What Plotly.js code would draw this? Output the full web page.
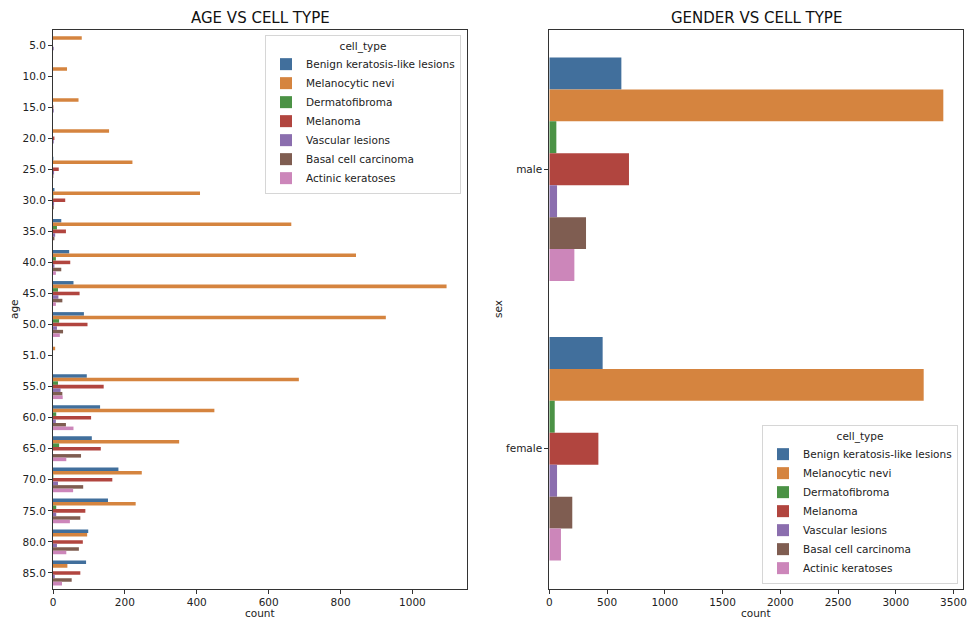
<!DOCTYPE html>
<html>
<head>
<meta charset="utf-8">
<script src="https://cdn.plot.ly/plotly-3.0.1.min.js"></script>
<style>html,body{margin:0;padding:0;background:#fff;}#chart{width:968px;height:619px;}</style>
</head>
<body>
<div id="chart"></div>
<script>
// ---- data ----
const cellTypes = ['Benign keratosis-like lesions','Melanocytic nevi','Dermatofibroma','Melanoma','Vascular lesions','Basal cell carcinoma','Actinic keratoses'];
const ages = ['5.0','10.0','15.0','20.0','25.0','30.0','35.0','40.0','45.0','50.0','51.0','55.0','60.0','65.0','70.0','75.0','80.0','85.0'];
const ageBenign   = [0, 0, 0, 0, 1, 4, 23, 45, 57, 86, 0, 94, 131, 108, 182, 153, 98, 92];
const ageNevi     = [80, 39, 71, 156, 221, 409, 663, 843, 1095, 926, 6, 684, 449, 351, 247, 230, 95, 40];
const ageDerma    = [0, 0, 0, 0, 0, 1, 11, 8, 14, 17, 0, 14, 9, 17, 1, 9, 0, 0];
const ageMelanoma = [0, 0, 1, 4, 16, 34, 36, 48, 74, 96, 0, 141, 106, 133, 165, 90, 83, 76];
const ageVascular = [2, 0, 2, 2, 3, 3, 6, 4, 15, 11, 0, 21, 8, 0, 14, 9, 11, 5];
const ageBCC      = [0, 0, 0, 0, 1, 2, 4, 23, 26, 28, 0, 26, 36, 78, 84, 76, 72, 52];
const ageActinic  = [0, 0, 0, 0, 0, 0, 0, 8, 8, 19, 0, 27, 57, 37, 56, 47, 37, 25];

const sexes = ['male','female'];
const sexBenign   = [624, 462];
const sexNevi     = [3412, 3242];
const sexDerma    = [61, 47];
const sexMelanoma = [690, 425];
const sexVascular = [67, 67];
const sexBCC      = [318, 199];
const sexActinic  = [217, 101];

const palette = ['#416f9c','#d5843f','#4b9245','#b1453f','#8b6eae','#7f5d51','#cc86ba'];

const ageSeries = [ageBenign, ageNevi, ageDerma, ageMelanoma, ageVascular, ageBCC, ageActinic];
const sexSeries = [sexBenign, sexNevi, sexDerma, sexMelanoma, sexVascular, sexBCC, sexActinic];

const FONT = 'DejaVu Sans, Arial, sans-serif';
const W = 968, H = 619;
const px = v => v / W;
const py = v => 1 - v / H;

const traces = [];
cellTypes.forEach((name, i) => {
  traces.push({
    type: 'bar', orientation: 'h', name: name,
    x: ageSeries[i], y: ages, xaxis: 'x', yaxis: 'y',
    marker: {color: palette[i], line: {width: 0}},
    legend: 'legend', legendgroup: 'a' + i, hoverinfo: 'x+y+name'
  });
});
cellTypes.forEach((name, i) => {
  traces.push({
    type: 'bar', orientation: 'h', name: name,
    x: sexSeries[i], y: sexes, xaxis: 'x2', yaxis: 'y2',
    marker: {color: palette[i], line: {width: 0}},
    legend: 'legend2', legendgroup: 's' + i, hoverinfo: 'x+y+name'
  });
});

const axisCommon = {
  showline: true, mirror: true, linecolor: '#333', linewidth: 1,
  ticks: 'outside', ticklen: 4, tickwidth: 1, tickcolor: '#333',
  showgrid: false, zeroline: false, automargin: false,
  tickfont: {family: FONT, size: 10.5, color: '#222'}
};

const legendCommon = {
  bgcolor: 'rgba(255,255,255,0.85)', bordercolor: '#d6d6d6', borderwidth: 1,
  font: {family: FONT, size: 10.5, color: '#222'},
  title: {text: 'cell_type', side: 'top center', font: {family: FONT, size: 10.5, color: '#222'}},
  traceorder: 'normal', xref: 'paper', yref: 'paper'
};

const layout = {
  width: W, height: H,
  margin: {l: 0, r: 0, t: 0, b: 0},
  paper_bgcolor: '#fff', plot_bgcolor: '#fff',
  font: {family: FONT, color: '#222'},
  barmode: 'group', bargap: 0.2, bargroupgap: 0,
  xaxis: Object.assign({}, axisCommon, {domain: [px(53), px(466.7)], range: [0, 1151], anchor: 'y', tickvals: [0,200,400,600,800,1000]}),
  yaxis: Object.assign({}, axisCommon, {domain: [py(588.5), py(29.5)], type: 'category', categoryorder: 'array', categoryarray: ages, range: [17.5, -0.5], anchor: 'x'}),
  xaxis2: Object.assign({}, axisCommon, {domain: [px(549.3), px(963.3)], range: [0, 3585], anchor: 'y2', tickvals: [0,500,1000,1500,2000,2500,3000,3500]}),
  yaxis2: Object.assign({}, axisCommon, {domain: [py(588.5), py(29.5)], type: 'category', categoryorder: 'array', categoryarray: sexes, range: [1.5, -0.5], anchor: 'x2'}),
  legend: Object.assign({}, legendCommon, {x: px(461), y: py(35), xanchor: 'right', yanchor: 'top'}),
  legend2: Object.assign({}, legendCommon, {x: px(958), y: py(584), xanchor: 'right', yanchor: 'bottom'}),
  annotations: [
    {text: 'AGE VS CELL TYPE', x: px(260), y: py(18), xref: 'paper', yref: 'paper', showarrow: false, xanchor: 'center', yanchor: 'middle', font: {family: FONT, size: 15, color: '#111'}},
    {text: 'GENDER VS CELL TYPE', x: px(756), y: py(18), xref: 'paper', yref: 'paper', showarrow: false, xanchor: 'center', yanchor: 'middle', font: {family: FONT, size: 15, color: '#111'}},
    {text: 'count', x: px(260), y: py(613), xref: 'paper', yref: 'paper', showarrow: false, xanchor: 'center', yanchor: 'middle', font: {family: FONT, size: 10.5, color: '#222'}},
    {text: 'count', x: px(756), y: py(613), xref: 'paper', yref: 'paper', showarrow: false, xanchor: 'center', yanchor: 'middle', font: {family: FONT, size: 10.5, color: '#222'}},
    {text: 'age', x: px(14), y: py(309), xref: 'paper', yref: 'paper', showarrow: false, textangle: -90, xanchor: 'center', yanchor: 'middle', font: {family: FONT, size: 10.5, color: '#222'}},
    {text: 'sex', x: px(498), y: py(309), xref: 'paper', yref: 'paper', showarrow: false, textangle: -90, xanchor: 'center', yanchor: 'middle', font: {family: FONT, size: 10.5, color: '#222'}}
  ]
};

Plotly.newPlot('chart', traces, layout, {displayModeBar: false, staticPlot: true});
</script>
</body>
</html>
